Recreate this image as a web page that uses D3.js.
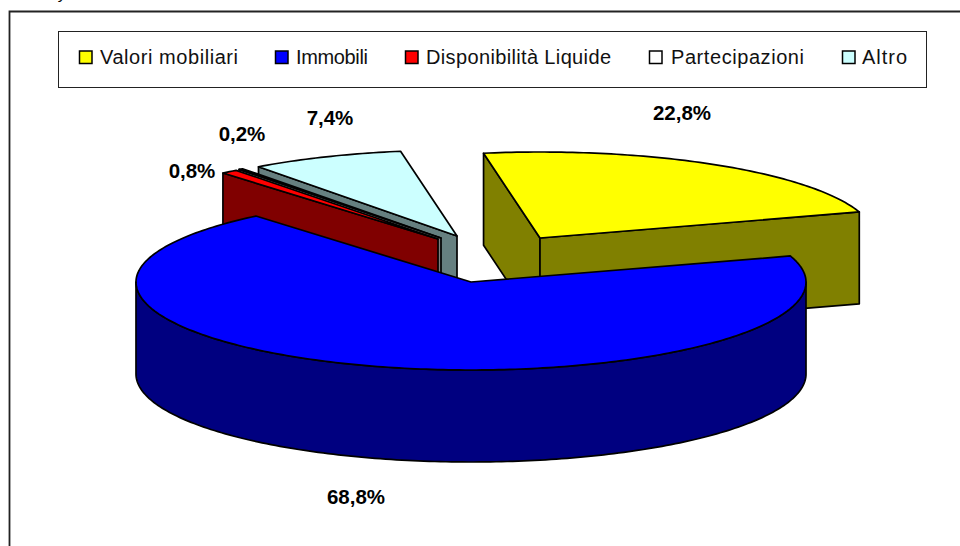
<!DOCTYPE html>
<html>
<head>
<meta charset="utf-8">
<script src="https://cdn.jsdelivr.net/npm/d3@7"></script>
<style>
  html, body { margin: 0; padding: 0; background: #fff; overflow: hidden; }
  svg { display: block; font-family: "Liberation Sans", Arial, sans-serif; }
</style>
</head>
<body>
<svg id="chart" width="960" height="546"></svg>
<script>
// ─── Data ─────────────────────────────────────────────────────────────────────
const categories = ["Valori mobiliari", "Immobili", "Disponibilità Liquide", "Partecipazioni", "Altro"];
const shares     = [22.8, 68.8, 0.8, 0.2, 7.4];

// ─── Configuration ────────────────────────────────────────────────────────────
const CONFIG = {
  center: { x: 471, y: 282 },
  // The back half of the pie is a little flatter than the front (3D perspective).
  radius: { x: 335, yFront: 88, yBack: 86 },
  depth: 92,
  firstSliceDeg: -9.7,
  colors: ["#ffff00", "#0000ff", "#ff0000", "#ffffff", "#ccffff"],
  // How far each slice was pulled out of the pie, in px on screen.
  explode: [[69, -44], [0, 0], [-33, -43], [-30, -44], [-14, -46]],
  // Data label centres, same order as the categories.
  labels: [[682, 120], [356, 504], [192, 178], [242, 141], [330, 125]],
  legend: {
    box: { x: 58.5, y: 31.5, w: 868, h: 56 },
    swatchX: [79.5, 275.5, 405.5, 649.5, 842.5],
    textX: [100, 296, 426, 671, 862],
    textW: [138, 72, 185, 133, 45],
    swatchY: 51,
    swatchSize: 12.5,
    baseline: 64
  }
};

// ─── Formatters & scales ──────────────────────────────────────────────────────
const italian = d3.formatLocale({ decimal: ",", thousands: ".", grouping: [3], currency: ["", "€"] });
const formatShare = v => `${italian.format(".1f")(v)}%`;

// Unit circle → screen, before the per-slice offset.
const xScale = d3.scaleLinear()
  .domain([-1, 1])
  .range([CONFIG.center.x - CONFIG.radius.x, CONFIG.center.x + CONFIG.radius.x]);
const yScale = d3.scaleLinear()
  .domain([-1, 0, 1])
  .range([CONFIG.center.y - CONFIG.radius.yBack, CONFIG.center.y, CONFIG.center.y + CONFIG.radius.yFront]);

const startAngle = CONFIG.firstSliceDeg * Math.PI / 180;
const slices = d3.pie().sort(null).startAngle(startAngle).endAngle(startAngle + 2 * Math.PI)(shares)
  .map((s, i) => ({ ...s, index: i, dx: CONFIG.explode[i][0], dy: CONFIG.explode[i][1] }));

const line = d3.line();
const darken = c => { const r = d3.rgb(c); return d3.rgb(r.r / 2, r.g / 2, r.b / 2).formatHex(); };

function rimPoint(s, a, drop = 0) {
  return [xScale(Math.sin(a)) + s.dx, yScale(-Math.cos(a)) + s.dy + drop];
}
function vertex(s, drop = 0) {
  return [CONFIG.center.x + s.dx, CONFIG.center.y + s.dy + drop];
}
function arcPoints(s, a0, a1, drop = 0) {
  const n = Math.max(2, Math.ceil(Math.abs(a1 - a0) * 60));
  return d3.range(n + 1).map(k => rimPoint(s, a0 + (a1 - a0) * k / n, drop));
}

// ─── Layers ───────────────────────────────────────────────────────────────────
const svg = d3.select("#chart");

// Cut-off descender of the page text above the chart.
svg.append("text")
  .attr("x", 59).attr("y", -1)
  .attr("font-size", 15).attr("font-style", "italic")
  .text("y");

// Chart frame: left and top edges only, the rest runs off the page.
svg.append("path")
  .attr("d", "M9.5,546V11.5H960")
  .attr("fill", "none").attr("stroke", "#222").attr("stroke-width", 1.8);

const pieLayer = svg.append("g")
  .attr("stroke", "#000").attr("stroke-width", 1.7).attr("stroke-linejoin", "round");

function drawPolygon(points, fill) {
  pieLayer.append("path").attr("d", line(points) + "Z").attr("fill", fill);
}

// Side wall along the straight edge of a slice at angle a.
function drawEdgeWall(s, a, fill) {
  drawPolygon([rimPoint(s, a), vertex(s), vertex(s, CONFIG.depth), rimPoint(s, a, CONFIG.depth)], fill);
}

function drawTop(s) {
  drawPolygon([vertex(s), ...arcPoints(s, s.startAngle, s.endAngle)], CONFIG.colors[s.index]);
}

// Back to front: Altro, Partecipazioni, Disponibilità, Valori mobiliari, Immobili.
[4, 3, 2].forEach(i => {
  const s = slices[i];
  drawEdgeWall(s, s.startAngle, darken(CONFIG.colors[i]));
  drawTop(s);
});

const valori = slices[0];
drawEdgeWall(valori, valori.startAngle, darken(CONFIG.colors[0]));
drawEdgeWall(valori, valori.endAngle, darken(CONFIG.colors[0]));
drawTop(valori);

// Immobili: only the front half of its outer wall can be seen.
const immobili = slices[1];
const frontA = Math.PI / 2, frontB = 3 * Math.PI / 2;
drawPolygon(
  [...arcPoints(immobili, frontA, frontB), ...arcPoints(immobili, frontB, frontA, CONFIG.depth)],
  darken(CONFIG.colors[1])
);
drawTop(immobili);

// ─── Data labels ──────────────────────────────────────────────────────────────
svg.append("g")
  .selectAll("text")
  .data(slices)
  .join("text")
  .attr("x", d => CONFIG.labels[d.index][0])
  .attr("y", d => CONFIG.labels[d.index][1])
  .attr("text-anchor", "middle")
  .attr("font-size", 20.5)
  .attr("font-weight", "bold")
  .attr("fill", "#000")
  .text(d => formatShare(d.value));

// ─── Legend ───────────────────────────────────────────────────────────────────
const lg = CONFIG.legend;
const legend = svg.append("g");
legend.append("rect")
  .attr("x", lg.box.x).attr("y", lg.box.y)
  .attr("width", lg.box.w).attr("height", lg.box.h)
  .attr("fill", "#fff").attr("stroke", "#222").attr("stroke-width", 1);

legend.selectAll("rect.swatch")
  .data(categories)
  .join("rect")
  .attr("class", "swatch")
  .attr("x", (d, i) => lg.swatchX[i]).attr("y", lg.swatchY)
  .attr("width", lg.swatchSize).attr("height", lg.swatchSize)
  .attr("fill", (d, i) => CONFIG.colors[i])
  .attr("stroke", "#000").attr("stroke-width", 1.5);

// The original's hinted glyph widths run wider than the font's own, hence textLength.
legend.selectAll("text")
  .data(categories)
  .join("text")
  .attr("x", (d, i) => lg.textX[i]).attr("y", lg.baseline)
  .attr("textLength", (d, i) => lg.textW[i])
  .attr("lengthAdjust", "spacing")
  .attr("font-size", 20).attr("fill", "#111")
  .text(d => d);
</script>
</body>
</html>
